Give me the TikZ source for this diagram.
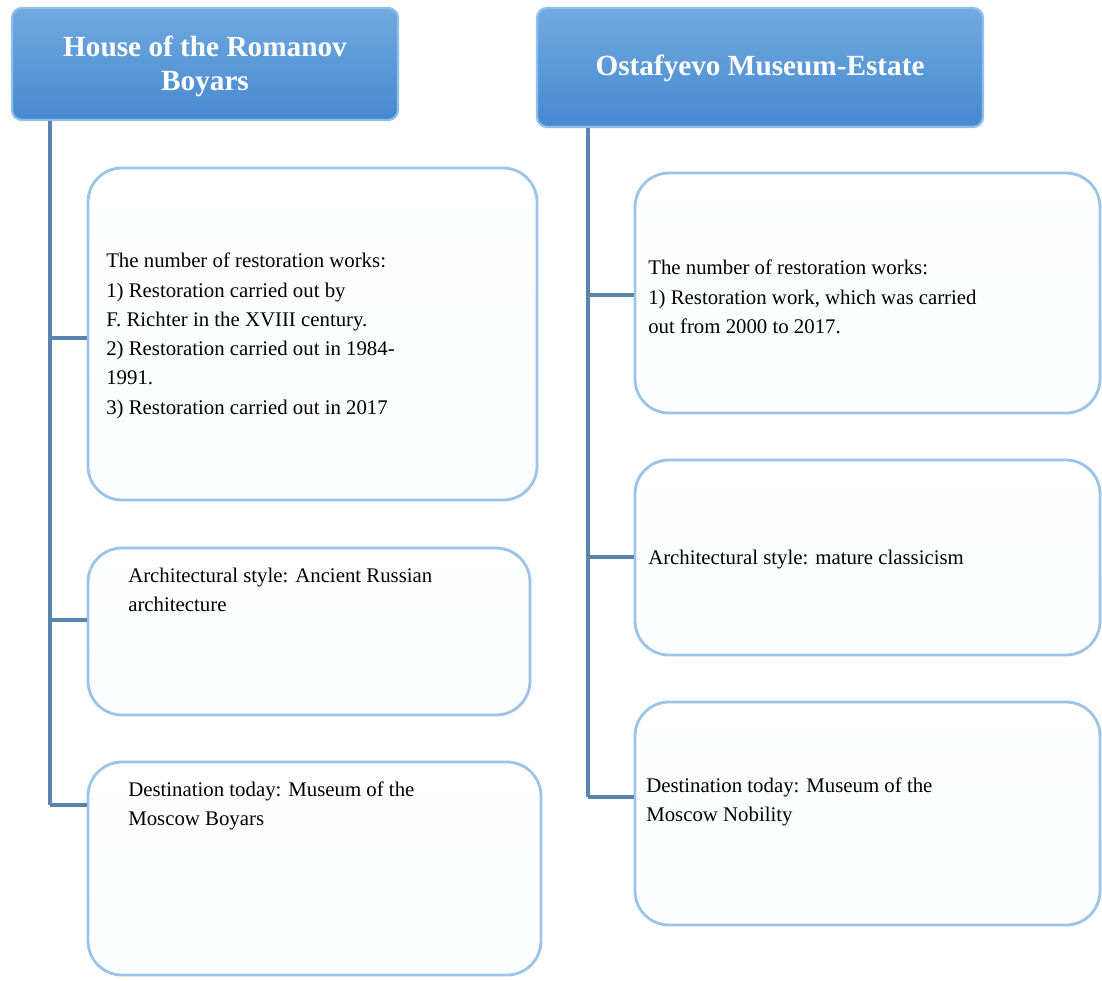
\documentclass[tikz,border=0pt]{standalone}
\usepackage{fontspec}
\setmainfont{Liberation Serif}
\usetikzlibrary{fit}

\definecolor{headTop}{HTML}{71A9E0}
\definecolor{headBot}{HTML}{4689CF}
\definecolor{headRim}{HTML}{8FC0EC}
\definecolor{boxRim}{HTML}{9CC3E8}
\definecolor{trunk}{HTML}{5A84AE}

\tikzset{
  head/.style={draw=headRim, line width=1.6pt, rounded corners=0.25cm,
    top color=headTop, bottom color=headBot, inner sep=0pt},
  headtext/.style={text=white, font=\bfseries\fontsize{20.8}{24}\selectfont,
    align=center, inner sep=0pt},
  infobox/.style={draw=boxRim, line width=2pt, rounded corners=0.85cm,
    top color=white, bottom color=white!96!boxRim, inner sep=0pt},
  infotext/.style={font=\fontsize{14.8}{20.8}\selectfont, align=left,
    anchor=west, inner sep=0pt},
  conn/.style={draw=trunk, line width=2.7pt}
}

\begin{document}
\begin{tikzpicture}[x=0.025cm, y=-0.025cm]
\useasboundingbox (0,0) rectangle (1102,980);

% headers
\node[head, fit={(12,8) (398,120)}] (houseHead) {};
\node[headtext] at (205,66) {House of the Romanov\\Boyars};
\node[head, fit={(537,8) (983,127)}] (ostHead) {};
\node[headtext] at (760,68) {Ostafyevo Museum-Estate};

% left column
\node[infobox, fit={(88,168) (537,500)}] (houseWorks) {};
\node[infotext] at (106,336) {The number of restoration works:\\1) Restoration carried out by\\F. Richter in the XVIII century.\\2) Restoration carried out in 1984-\\1991.\\3) Restoration carried out in 2017};
\node[infobox, fit={(88,548) (530,715)}] (houseStyle) {};
\node[infotext] at (128,590) {Architectural style: Ancient Russian\\architecture};
\node[infobox, fit={(88,762) (541,975)}] (houseToday) {};
\node[infotext] at (128,806) {Destination today: Museum of the\\Moscow Boyars};

% right column
\node[infobox, fit={(635,173) (1100,413)}] (ostWorks) {};
\node[infotext] at (648,297) {The number of restoration works:\\1) Restoration work, which was carried\\out from 2000 to 2017.};
\node[infobox, fit={(635,460) (1100,655)}] (ostStyle) {};
\node[infotext] at (648,560) {Architectural style: mature classicism};
\node[infobox, fit={(635,702) (1100,925)}] (ostToday) {};
\node[infotext] at (646,802) {Destination today: Museum of the\\Moscow Nobility};

% connectors
\coordinate (hA) at (50,338);
\coordinate (hB) at (50,620);
\coordinate (hC) at (50,805);
\draw[conn] (hC |- houseHead.south) -- (hC);
\draw[conn] (hA) -- (hA -| houseWorks.west);
\draw[conn] (hB) -- (hB -| houseStyle.west);
\draw[conn] (hC) -- (hC -| houseToday.west);

\coordinate (oA) at (588,295);
\coordinate (oB) at (588,557);
\coordinate (oC) at (588,797);
\draw[conn] (oC |- ostHead.south) -- (oC);
\draw[conn] (oA) -- (oA -| ostWorks.west);
\draw[conn] (oB) -- (oB -| ostStyle.west);
\draw[conn] (oC) -- (oC -| ostToday.west);
\end{tikzpicture}
\end{document}
